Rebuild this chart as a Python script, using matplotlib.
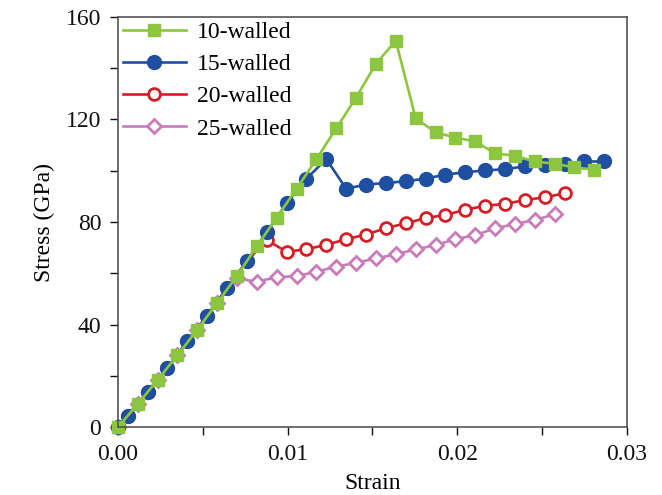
import matplotlib
matplotlib.use('Agg')
import matplotlib.pyplot as plt
from matplotlib.ticker import MultipleLocator

plt.rcParams['font.family'] = 'Liberation Serif'

# strain values (x1e-3) and stress (GPa)
strain_10 = [0, 1.17, 2.34, 3.51, 4.68, 5.85, 7.02, 8.19, 9.36, 10.53, 11.70, 12.87, 14.04,
             15.21, 16.38, 17.55, 18.72, 19.89, 21.06, 22.23, 23.40, 24.57, 25.74, 26.91, 28.08]
stress_10 = [0, 9, 18.4, 28, 38, 48.4, 59, 70.5, 81.7, 92.9, 104.5, 116.5, 128.5,
             141.7, 150.7, 120.4, 115, 112.9, 111.4, 106.8, 105.8, 103.6, 102.7, 101.3, 100.4]

strain_15 = [0, 0.585, 1.755, 2.925, 4.095, 5.265, 6.435, 7.605, 8.775, 9.945, 11.115, 12.285,
             13.455, 14.625, 15.795, 16.965, 18.135, 19.305, 20.475, 21.645, 22.815, 23.985,
             25.155, 26.325, 27.495, 28.665]
stress_15 = [0, 4.5, 13.8, 23.1, 33.5, 43.5, 54.3, 64.7, 76.1, 87.3, 96.9, 104.5,
             93, 94.6, 95.2, 95.9, 96.9, 98.5, 99.4, 100.1, 100.6, 101.7,
             102.1, 102.6, 103.6, 103.6]

strain_20 = [0, 0.585, 1.755, 2.925, 4.095, 5.265, 6.435, 7.605, 8.775, 9.945, 11.115, 12.285,
             13.455, 14.625, 15.795, 16.965, 18.135, 19.305, 20.475, 21.645, 22.815, 23.985,
             25.155, 26.325]
stress_20 = [0, 4.5, 13.8, 23.1, 33.5, 43.5, 54.3, 64.7, 73, 68.4, 69.4, 71.1,
             73.3, 75.1, 77.6, 79.5, 81.5, 82.8, 84.7, 86.4, 87, 88.6, 89.6, 91.2]

strain_25 = [0, 1.17, 2.34, 3.51, 4.68, 5.85, 7.02, 8.19, 9.36, 10.53, 11.70, 12.87, 14.04,
             15.21, 16.38, 17.55, 18.72, 19.89, 21.06, 22.23, 23.40, 24.57, 25.74]
stress_25 = [0, 9, 18.4, 28, 38, 48.4, 58, 56.7, 58.5, 58.9, 60.6, 62.6, 64.1,
             65.8, 67.4, 69.3, 71, 73.3, 74.9, 77.5, 79.2, 80.8, 83]

fig = plt.figure(figsize=(6.62, 4.95), dpi=100)
ax = fig.add_axes([0.178, 0.137, 0.769, 0.829])

lw = 1.9
l25, = ax.plot([s / 1000 for s in strain_25], stress_25, color='#c97bba', lw=lw, marker='D',
               ms=7.5, mfc='white', mec='#c97bba', mew=2, label='25-walled', clip_on=False)
l20, = ax.plot([s / 1000 for s in strain_20], stress_20, color='#d71e27', lw=lw, marker='o',
               ms=8.5, mfc='white', mec='#d71e27', mew=2, label='20-walled', clip_on=False)
l15, = ax.plot([s / 1000 for s in strain_15], stress_15, color='#1f4fa0', lw=lw, marker='o',
               ms=10, label='15-walled', clip_on=False)
l10, = ax.plot([s / 1000 for s in strain_10], stress_10, color='#8cc63e', lw=lw, marker='s',
               ms=8.5, label='10-walled', clip_on=False)

ax.set_xlim(0, 0.03)
ax.set_ylim(0, 160)
ax.xaxis.set_major_locator(MultipleLocator(0.01))
ax.xaxis.set_minor_locator(MultipleLocator(0.005))
ax.yaxis.set_major_locator(MultipleLocator(40))
ax.yaxis.set_minor_locator(MultipleLocator(20))
ax.set_xticks([0, 0.01, 0.02, 0.03])
ax.set_xticklabels(['0.00', '0.01', '0.02', '0.03'])
ax.tick_params(which='both', direction='out', length=6, width=1, labelsize=17, colors='#111111')
ax.tick_params(which='major', pad=6)
for sp in ax.spines.values():
    sp.set_color('#555555')
    sp.set_linewidth(1.2)

ax.set_xlabel('Strain', fontsize=17, labelpad=6)
ax.set_ylabel('Stress (GPa)', fontsize=17, labelpad=8)

ax.legend(handles=[l10, l15, l20, l25], loc='upper left', frameon=False, fontsize=17,
          handlelength=2.7, handletextpad=0.45, labelspacing=0.45, borderaxespad=0.0,
          borderpad=0.2, bbox_to_anchor=(0.0, 1.0))

fig.savefig('out.png', dpi=100)
